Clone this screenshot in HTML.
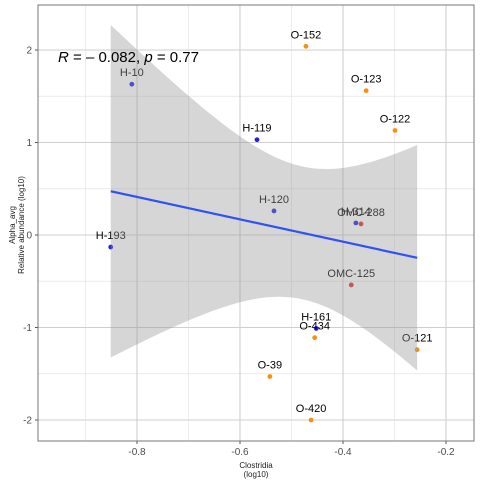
<!DOCTYPE html>
<html><head><meta charset="utf-8"><style>body{margin:0;background:#fff}svg{display:block;font-family:"Liberation Sans",sans-serif}</style></head>
<body>
<svg id="c" width="480" height="480"></svg>
<script>
const labels=["H-10","H-193","H-119","H-120","O-152","O-123","O-122","H-314","OMC-288","OMC-125","H-161","O-434","O-121","O-39","O-420"];
const xs=[-0.81,-0.851,-0.567,-0.534,-0.472,-0.355,-0.299,-0.375,-0.365,-0.384,-0.452,-0.455,-0.256,-0.542,-0.462];
const ys=[1.63,-0.13,1.03,0.26,2.04,1.56,1.13,0.13,0.12,-0.54,-1.01,-1.11,-1.24,-1.53,-2.0];
const groups=["H","H","H","H","O","O","O","H","OMC","OMC","H","O","O","O","O"];
const xTicks=[-0.8,-0.6,-0.4,-0.2];
const yTicks=[-2,-1,0,1,2];
const NS="http://www.w3.org/2000/svg",svg=document.getElementById("c");
const X=v=>137+(v+0.8)*515, Y=v=>235-v*92.5;
const L=38,R=474,T=5,B=441;
function mk(t,a,p){const e=document.createElementNS(NS,t);for(const k in a)e.setAttribute(k,a[k]);(p||svg).appendChild(e);return e;}
const grid=mk("g",{});
for(let v=-0.9;v<=-0.1;v+=0.2){const x=X(v);if(x>L&&x<R)mk("line",{x1:x,x2:x,y1:T,y2:B,stroke:"#e4e4e4","stroke-width":0.7},grid);}
for(let v=-2.5;v<=2.5;v+=1){const y=Y(v);if(y>T&&y<B)mk("line",{x1:L,x2:R,y1:y,y2:y,stroke:"#e4e4e4","stroke-width":0.7},grid);}
xTicks.forEach(v=>{mk("line",{x1:X(v),x2:X(v),y1:T,y2:B,stroke:"#cfcfcf","stroke-width":1.1},grid);
 const t=mk("text",{x:X(v),y:B+14,"text-anchor":"middle","font-size":10,fill:"#4d4d4d"});t.textContent=v.toFixed(1);
 mk("line",{x1:X(v),x2:X(v),y1:B,y2:B+3,stroke:"#555"});});
yTicks.forEach(v=>{mk("line",{x1:L,x2:R,y1:Y(v),y2:Y(v),stroke:"#cfcfcf","stroke-width":1.1},grid);
 const t=mk("text",{x:L-6,y:Y(v)+3.5,"text-anchor":"end","font-size":10,fill:"#4d4d4d"});t.textContent=String(v);
 mk("line",{x1:L-3,x2:L,y1:Y(v),y2:Y(v),stroke:"#555"});});
const col={H:"#2020e0",O:"#f5930f",OMC:"#e03030"};
xs.forEach((x,i)=>{const c=mk("circle",{cx:X(x),cy:Y(ys[i]),r:2.4,fill:col[groups[i]]});
 const t=mk("text",{x:X(x),y:Y(ys[i])-8,"text-anchor":"middle","font-size":11,fill:"#000"});t.textContent=labels[i];});
const n=xs.length,mx=xs.reduce((a,b)=>a+b)/n,my=ys.reduce((a,b)=>a+b)/n;
let sxx=0,sxy=0;xs.forEach((x,i)=>{sxx+=(x-mx)**2;sxy+=(x-mx)*(ys[i]-my);});
const b=sxy/sxx,a=my-b*mx;let sse=0;xs.forEach((x,i)=>sse+=(ys[i]-a-b*x)**2);
const s=Math.sqrt(sse/(n-2)),tq=2.16;
const x0=Math.min(...xs),x1=Math.max(...xs);let up=[],lo=[];
for(let k=0;k<=80;k++){const x=x0+(x1-x0)*k/80,f=a+b*x,se=s*Math.sqrt(1/n+(x-mx)**2/sxx);up.push(X(x)+","+Y(f+tq*se));lo.unshift(X(x)+","+Y(f-tq*se));}
const band=mk("polygon",{points:up.concat(lo).join(" "),fill:"rgba(153,153,153,0.4)"});
const ln=mk("line",{x1:X(x0),y1:Y(a+b*x0),x2:X(x1),y2:Y(a+b*x1),stroke:"#3050f8","stroke-width":2.2});
const fr=mk("rect",{x:L,y:T,width:R-L,height:B-T,fill:"none",stroke:"#777","stroke-width":1});
const st=mk("text",{x:58,y:62,"font-size":15,fill:"#000"});st.innerHTML='<tspan font-style="italic">R</tspan> = \u2013 0.082, <tspan font-style="italic">p</tspan> = 0.77';
const xt=mk("text",{x:256,y:468,"text-anchor":"middle","font-size":8,fill:"#222"});xt.innerHTML='<tspan x="256">Clostridia</tspan><tspan x="256" dy="9">(log10)</tspan>';
const yt=mk("text",{transform:"translate(15,225) rotate(-90)","text-anchor":"middle","font-size":8,fill:"#222"});yt.innerHTML='<tspan x="0">Alpha_avg</tspan><tspan x="0" dy="9">Relative abundance (log10)</tspan>';
</script>
</body></html>
